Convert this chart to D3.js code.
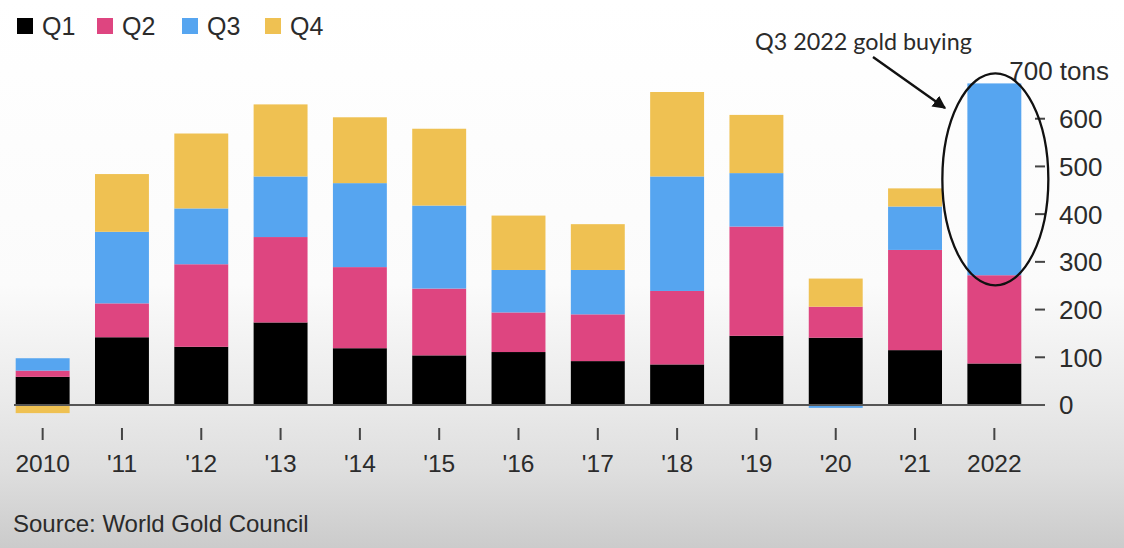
<!DOCTYPE html>
<html>
<head>
<meta charset="utf-8">
<script src="https://cdn.jsdelivr.net/npm/d3@7"></script>
<style>
  html, body { margin: 0; padding: 0; background: #fff; }
  svg { display: block; }
  text { font-family: "Liberation Sans", Arial, sans-serif; fill: #2b2b2b; }
</style>
</head>
<body>
<svg id="chart" width="1124" height="548"></svg>
<script>
// Central bank gold buying by quarter, tons
const years = ["2010", "'11", "'12", "'13", "'14", "'15", "'16", "'17", "'18", "'19", "'20", "'21", "2022"];
const q1 = [59, 142, 122, 173, 119, 104, 111, 92, 85, 145, 141, 115, 87];
const q2 = [13, 71, 173, 179, 170, 140, 83, 98, 154, 229, 65, 210, 185];
const q3 = [26, 150, 117, 127, 176, 174, 89, 93, 240, 112, -6, 91, 402];
const q4 = [-17, 121, 157, 151, 138, 161, 114, 96, 177, 122, 59, 38, 0];
const quarters = ["Q1", "Q2", "Q3", "Q4"];
const yTicks = [0, 100, 200, 300, 400, 500, 600, 700];

const colors = { Q1: "#000000", Q2: "#de4580", Q3: "#56a5f0", Q4: "#efc152" };

const rows = years.map((y, i) => ({ year: y, Q1: q1[i], Q2: q2[i], Q3: q3[i], Q4: q4[i] }));

const svg = d3.select("#chart");
const W = 1124, H = 548;

// background: white fading to grey toward the bottom
const defs = svg.append("defs");
const bg = defs.append("linearGradient").attr("id", "bg").attr("x1", 0).attr("y1", 0).attr("x2", 0).attr("y2", 1);
[[0, "#ffffff"], [0.52, "#fbfbfb"], [0.72, "#ebebeb"], [0.86, "#dedede"], [1, "#cbcbcb"]]
  .forEach(([o, c]) => bg.append("stop").attr("offset", o).attr("stop-color", c));
svg.append("rect").attr("width", W).attr("height", H).attr("fill", "url(#bg)");

defs.append("marker").attr("id", "arrow")
  .attr("viewBox", "0 0 10 10").attr("refX", 9).attr("refY", 5)
  .attr("markerWidth", 5.5).attr("markerHeight", 5.5).attr("orient", "auto")
  .append("path").attr("d", "M0,0 L10,5 L0,10 Z").attr("fill", "#111");

const x = d3.scaleBand().domain(years).range([3, 1034]).paddingInner(0.32).paddingOuter(0.16);
const y = d3.scaleLinear().domain([0, 700]).range([405, 71]);

const series = d3.stack().keys(quarters).offset(d3.stackOffsetDiverging)(rows);

svg.append("g").selectAll("g").data(series).join("g")
  .attr("fill", d => colors[d.key])
  .selectAll("rect").data(d => d).join("rect")
  .attr("x", d => x(d.data.year))
  .attr("width", x.bandwidth())
  .attr("y", d => y(Math.max(d[0], d[1])))
  .attr("height", d => Math.abs(y(d[0]) - y(d[1])));

// baseline
svg.append("line")
  .attr("x1", 14).attr("x2", 1045).attr("y1", y(0)).attr("y2", y(0))
  .attr("stroke", "#555").attr("stroke-width", 2);

// y axis on the right
const yAxis = svg.append("g");
yAxis.selectAll("line").data(yTicks.filter(t => t > 0 && t < 700)).join("line")
  .attr("x1", 1035).attr("x2", 1045)
  .attr("y1", d => y(d)).attr("y2", d => y(d))
  .attr("stroke", "#444").attr("stroke-width", 2);
yAxis.selectAll("text").data(yTicks).join("text")
  .attr("x", d => d === 700 ? 1109 : 1059)
  .attr("y", d => y(d))
  .attr("dy", "0.36em")
  .attr("text-anchor", d => d === 700 ? "end" : "start")
  .attr("font-size", 26)
  .text(d => d === 700 ? "700 tons" : d);

// x axis ticks and labels
const xAxis = svg.append("g");
xAxis.selectAll("line").data(years).join("line")
  .attr("x1", d => x(d) + x.bandwidth() / 2).attr("x2", d => x(d) + x.bandwidth() / 2)
  .attr("y1", 428).attr("y2", 440)
  .attr("stroke", "#444").attr("stroke-width", 2);
xAxis.selectAll("text").data(years).join("text")
  .attr("x", d => x(d) + x.bandwidth() / 2)
  .attr("y", 472)
  .attr("text-anchor", "middle")
  .attr("font-size", 24.5)
  .text(d => d);

// legend
const legend = svg.append("g");
const lg = legend.selectAll("g").data(quarters).join("g")
  .attr("transform", (d, i) => `translate(${[17, 97, 182, 265][i]},0)`);
lg.append("rect").attr("x", 0).attr("y", 18).attr("width", 16).attr("height", 16)
  .attr("fill", d => colors[d]);
lg.append("text").attr("x", 25).attr("y", 35).attr("font-size", 25).text(d => d);

// source
svg.append("text").attr("x", 13).attr("y", 532).attr("font-size", 24)
  .attr("fill", "#333").text("Source: World Gold Council");

// annotation: circled 2022 Q3 bar with arrow and note
const last = series[2][years.length - 1];
const cx = x("2022") + x.bandwidth() / 2 + 1;
svg.append("ellipse")
  .attr("cx", cx).attr("cy", (y(last[1]) + y(last[0])) / 2)
  .attr("rx", 53).attr("ry", 106)
  .attr("fill", "none").attr("stroke", "#111").attr("stroke-width", 2.3);

svg.append("line")
  .attr("x1", 873).attr("y1", 57).attr("x2", 945).attr("y2", 108)
  .attr("stroke", "#111").attr("stroke-width", 2.4)
  .attr("marker-end", "url(#arrow)");

const note = svg.append("text")
  .attr("x", 755).attr("y", 50)
  .attr("font-size", 22)
  .style("font-family", "Lato, 'Open Sans', sans-serif")
  .attr("fill", "#222")
  .text("Q3 2022 gold buying");
const nw = note.node().getComputedTextLength();
note.attr("font-size", 22 * 217 / nw);
</script>
</body>
</html>
